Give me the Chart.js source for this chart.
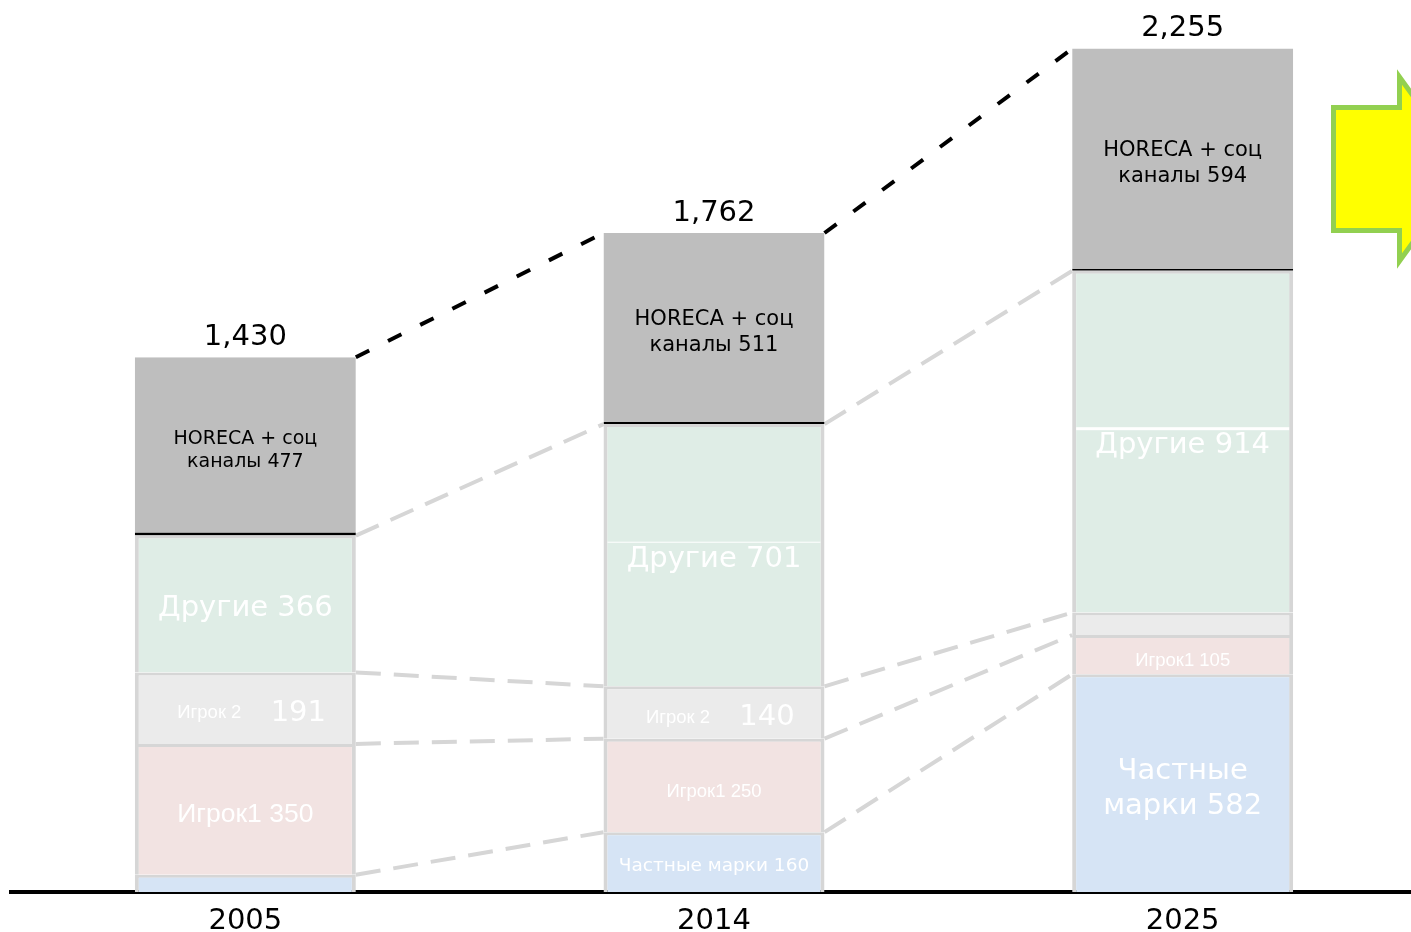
<!DOCTYPE html>
<html><head><meta charset="utf-8">
<script src="https://cdn.jsdelivr.net/npm/chart.js@4.4.1/dist/chart.umd.min.js"></script>
<style>
html,body{margin:0;padding:0;overflow:hidden;background:#fff;width:1411px;height:932px}
#wrap{position:relative;width:1417px;height:932px}
</style></head>
<body><div id="wrap"><canvas id="c" width="1417" height="932"></canvas></div>
<script>
// ---- data ----
const categories = ['2005', '2014', '2025'];
const privateLabels = [46, 160, 582];   // Частные марки
const player1 = [350, 250, 105];        // Игрок1
const player2 = [191, 140, 60];         // Игрок 2
const others = [366, 701, 914];         // Другие
const horeca = [477, 511, 594];         // HORECA + соц каналы
const totals = [1430, 1762, 2255];
const seriesNames = ['Частные марки', 'Игрок1', 'Игрок 2', 'Другие', 'HORECA + соц каналы'];

// ---- styles ----
const GRAY_BORDER = '#d6d6d6';
const DV = '"DejaVu Sans", Verdana, sans-serif';
const AR = '"Liberation Sans", Arial, sans-serif';

function segDataset(label, data, bg) {
  return {
    label, data, backgroundColor: bg,
    borderColor: GRAY_BORDER,
    borderWidth: {top: 3, left: 4, right: 4, bottom: 0},
    borderSkipped: false,
    inflateAmount: 0,
    barThickness: 221
  };
}

const datasets = [
  segDataset(seriesNames[0], privateLabels, '#d6e4f5'),
  segDataset(seriesNames[1], player1, '#f2e3e2'),
  segDataset(seriesNames[2], player2, '#ebebeb'),
  segDataset(seriesNames[3], others, '#dfede6'),
  {
    label: seriesNames[4], data: horeca, backgroundColor: '#bebebe',
    borderColor: '#000',
    borderWidth: (c) => ({top: 0, left: 0, right: 0, bottom: c.dataIndex === 0 ? 3 : 2}),
    borderSkipped: false, inflateAmount: 0, barThickness: 221
  }
];

function txt(ctx, s, x, y, font, color) {
  ctx.font = font; ctx.fillStyle = color;
  ctx.textAlign = 'center'; ctx.textBaseline = 'middle';
  ctx.fillText(s, x, y);
}

const connectors = {
  id: 'connectors',
  beforeDatasetsDraw(chart) {
    const ctx = chart.ctx;
    const metas = chart.data.datasets.map((d, i) => chart.getDatasetMeta(i));
    ctx.save();
    for (let i = 0; i < categories.length - 1; i++) {
      metas.forEach((m, k) => {
        const a = m.data[i], b = m.data[i + 1];
        const isTop = k === metas.length - 1;
        ctx.beginPath();
        ctx.setLineDash(isTop ? [15, 21] : [25, 13]);
        ctx.lineWidth = 4;
        ctx.strokeStyle = isTop ? '#000' : GRAY_BORDER;
        ctx.moveTo(a.x + a.width / 2, a.y);
        ctx.lineTo(b.x - b.width / 2, b.y);
        ctx.stroke();
      });
    }
    ctx.restore();
  }
};

const labelsPlugin = {
  id: 'labels',
  afterDatasetsDraw(chart) {
    const ctx = chart.ctx;
    const metas = chart.data.datasets.map((d, i) => chart.getDatasetMeta(i));
    ctx.save();
    const horecaSize = [19, 21, 21], horecaGap = [23, 26, 26];
    const boxLine = [0, 1, 3];
    categories.forEach((cat, i) => {
      const seg = (k) => {
        const el = metas[k].data[i];
        return {x: el.x, w: el.width, top: el.y, base: el.base, mid: (el.y + el.base) / 2, h: el.base - el.y};
      };
      // Частные марки
      let s = seg(0);
      if (s.h > 150) {
        txt(ctx, 'Частные', s.x, s.mid - 12, '29px ' + DV, '#fff');
        txt(ctx, 'марки ' + privateLabels[i], s.x, s.mid + 23, '29px ' + DV, '#fff');
      } else if (s.h > 40) {
        txt(ctx, seriesNames[0] + ' ' + privateLabels[i], s.x, s.mid + 4, '18.5px ' + DV, '#fff');
      }
      // Игрок1
      s = seg(1);
      if (s.h > 100) txt(ctx, 'Игрок1 ' + player1[i], s.x, s.mid + 5, '26.5px ' + AR, '#fff');
      else if (s.h > 25) txt(ctx, 'Игрок1 ' + player1[i], s.x, s.mid + 6, '18.5px ' + AR, '#fff');
      // Игрок 2
      s = seg(2);
      if (s.h > 40) {
        txt(ctx, 'Игрок 2', s.x - 36, s.mid + 5, '18.5px ' + AR, '#fff');
        txt(ctx, String(player2[i]), s.x + 53, s.mid + 5, '29px ' + DV, '#fff');
      }
      // Другие
      s = seg(3);
      if (boxLine[i] > 0) {
        ctx.fillStyle = '#fff';
        ctx.fillRect(s.x - s.w / 2 + 4, s.mid - 13 - boxLine[i] / 2, s.w - 8, boxLine[i]);
      }
      txt(ctx, 'Другие ' + others[i], s.x, s.mid + 4, '29px ' + DV, '#fff');
      // HORECA
      s = seg(4);
      const g = horecaGap[i];
      txt(ctx, 'HORECA + соц', s.x, s.mid - g / 2 + 4, horecaSize[i] + 'px ' + DV, '#000');
      txt(ctx, 'каналы ' + horeca[i], s.x, s.mid + g / 2 + 4, horecaSize[i] + 'px ' + DV, '#000');
      // total
      txt(ctx, totals[i].toLocaleString('en-US'), s.x, s.top - 20, '29px ' + DV, '#000');
    });
    ctx.restore();
  }
};

const arrowPlugin = {
  id: 'arrow',
  afterDraw(chart) {
    const ctx = chart.ctx;
    ctx.save();
    ctx.beginPath();
    ctx.moveTo(1333.5, 107.5);
    ctx.lineTo(1399.5, 107.5);
    ctx.lineTo(1399.5, 77);
    ctx.lineTo(1466, 169);
    ctx.lineTo(1399.5, 261);
    ctx.lineTo(1399.5, 230.5);
    ctx.lineTo(1333.5, 230.5);
    ctx.closePath();
    ctx.fillStyle = '#ffff00';
    ctx.fill();
    ctx.lineWidth = 5;
    ctx.strokeStyle = '#92d050';
    ctx.lineJoin = 'miter';
    ctx.stroke();
    ctx.restore();
  }
};

new Chart(document.getElementById('c'), {
  type: 'bar',
  data: {labels: categories, datasets},
  options: {
    responsive: false,
    animation: false,
    layout: {padding: {left: 11, right: 0, top: 0, bottom: 0}},
    plugins: {legend: {display: false}, tooltip: {enabled: false}},
    scales: {
      x: {
        stacked: true,
        z: 1,
        grid: {display: false},
        border: {display: true, color: '#000', width: 4},
        ticks: {color: '#000', font: {family: DV, size: 29}, padding: 4},
        afterFit(scale) { scale.height = 40; }
      },
      y: {stacked: true, display: false, min: 0, max: 2385}
    }
  },
  plugins: [connectors, labelsPlugin, arrowPlugin]
});
</script>
</body></html>
